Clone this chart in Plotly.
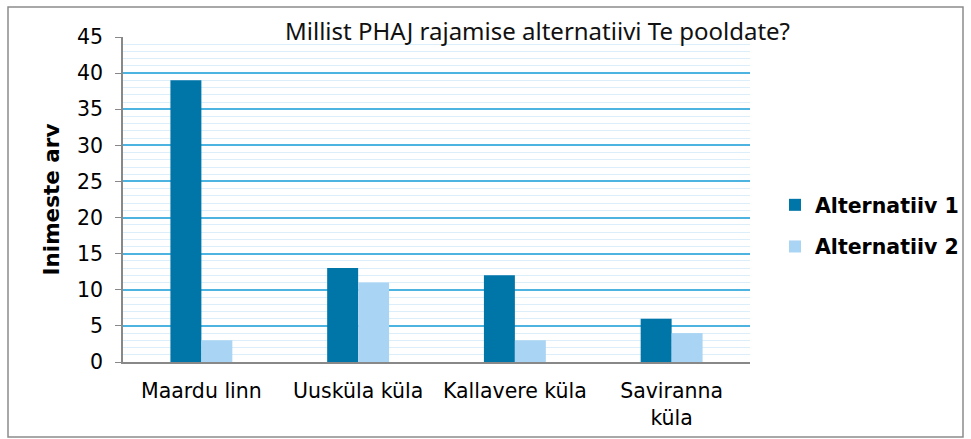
import plotly.graph_objects as go

categories = ["Maardu linn", "Uusküla küla", "Kallavere küla", "Saviranna<br>küla"]
alt1 = [39, 13, 12, 6]
alt2 = [3, 11, 3, 4]
series_names = ["Alternatiiv 1", "Alternatiiv 2"]
y_ticks = [0, 5, 10, 15, 20, 25, 30, 35, 40, 45]

fig = go.Figure()
fig.add_trace(go.Bar(x=categories, y=alt1, name=series_names[0],
                     marker=dict(color="#0075A8", line=dict(width=0)),
                     legendgroup="a"))
fig.add_trace(go.Bar(x=categories, y=alt2, name=series_names[1],
                     marker=dict(color="#A9D4F4", line=dict(width=0)),
                     legendgroup="b"))

L, R, T, B = 123, 971 - 750, 37, 439 - 362
W, H = 971 - L - R, 439 - T - B

fig.update_layout(
    width=971, height=439,
    margin=dict(l=L, r=R, t=T, b=B, autoexpand=False),
    paper_bgcolor="white", plot_bgcolor="white",
    font=dict(family="DejaVu Sans", size=20, color="#000000"),
    barmode="group", bargap=0.605, bargroupgap=0,
    showlegend=True,
    legend=dict(x=(775 - L) / W, y=(362 - 226) / H, xanchor="left", yanchor="middle",
                font=dict(family="DejaVu Sans", size=20.5, color="black", weight="bold"),
                tracegroupgap=12, traceorder="grouped", itemwidth=30,
                bgcolor="rgba(0,0,0,0)"),
    xaxis=dict(showline=True, linecolor="#888888", linewidth=1.5, automargin=False,
               ticks="outside", ticklen=10, tickcolor="rgba(0,0,0,0)",
               tickfont=dict(size=20.5), showgrid=False),
    yaxis=dict(range=[0, 45], tickvals=y_ticks, showline=True, linecolor="#888888",
               linewidth=1.5, ticks="outside", ticklen=6, tickcolor="#888888",
               ticklabelstandoff=8, automargin=False,
               tickfont=dict(size=20.5),
               showgrid=True, gridcolor="#4DB3E0", gridwidth=1.5,
               minor=dict(dtick=1, showgrid=True, gridcolor="#DCEEFA", gridwidth=1),
               zeroline=False,
               title=dict(text="<b>Inimeste arv</b>", font=dict(size=21.5), standoff=12)),
)

fig.add_annotation(text="Millist PHAJ rajamise alternatiivi Te pooldate?",
                   xref="paper", yref="paper", x=(537 - L) / W, y=(362 - 31) / H,
                   xanchor="center", yanchor="middle", showarrow=False,
                   font=dict(family="Noto Sans", size=24, color="#111111"))

fig.add_shape(type="rect", xref="paper", yref="paper",
              x0=(8 - L) / W, x1=(963 - L) / W, y0=(362 - 437) / H, y1=(362 - 7) / H,
              line=dict(color="#8C8C8C", width=1.5), fillcolor="rgba(0,0,0,0)", layer="below")

fig.write_html("out.html", config={"displayModeBar": False},
               post_script="document.body.style.margin='0';document.body.style.overflow='hidden';")
